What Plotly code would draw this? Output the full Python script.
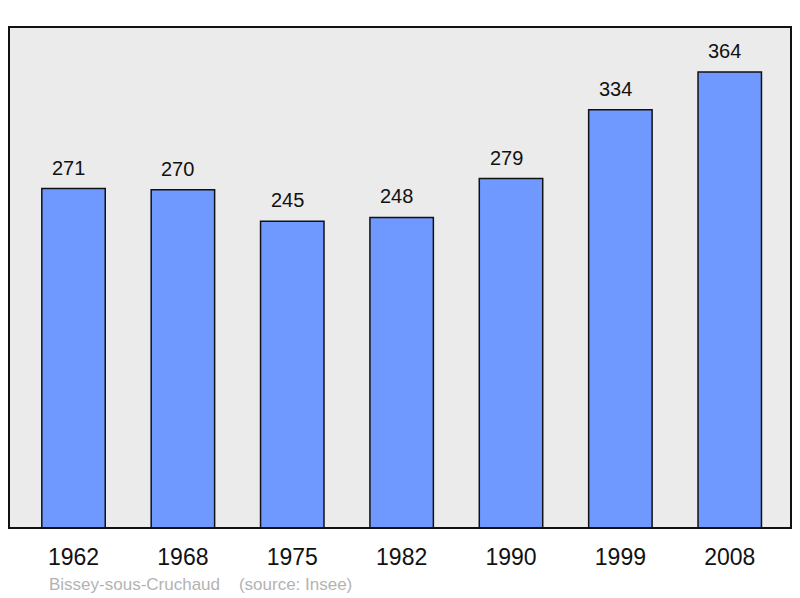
import plotly.graph_objects as go

years = ["1962", "1968", "1975", "1982", "1990", "1999", "2008"]
population = [271, 270, 245, 248, 279, 334, 364]
place = "Bissey-sous-Cruchaud"
source = "(source: Insee)"

fig = go.Figure()
fig.add_bar(
    x=years,
    y=population,
    marker={"color": "#7099ff", "line": {"color": "#111111", "width": 1.5}},
    width=0.58,
    hoverinfo="x+y",
)

# value labels; x given as category index so "1962" is not read as a number
for i, val in enumerate(population):
    fig.add_annotation(
        x=i, y=val, text=str(val), showarrow=False, yshift=21, xshift=-5,
        font={"size": 20, "color": "#111111"},
    )

fig.add_annotation(
    xref="paper", yref="paper", x=0.0485, y=-0.112, xanchor="left", yanchor="middle",
    text=place + "\u00a0" * 4 + source, showarrow=False,
    font={"size": 17, "color": "#b3b3b3"},
)

# frame around plot area
fig.add_shape(
    type="rect", xref="paper", yref="paper", x0=0, x1=1, y0=0, y1=1,
    line={"color": "#111111", "width": 2}, layer="above",
)

fig.update_layout(
    width=800,
    height=598,
    margin={"l": 9, "r": 9, "t": 27, "b": 70},
    paper_bgcolor="white",
    plot_bgcolor="#ebebeb",
    font={"family": "Liberation Sans, Arial, sans-serif", "color": "#111111"},
    showlegend=False,
    xaxis={
        "type": "category",
        "range": [-0.59, 6.56],
        "showgrid": False,
        "zeroline": False,
        "ticks": "outside",
        "ticklen": 8,
        "tickcolor": "rgba(0,0,0,0)",
        "tickfont": {"size": 23, "color": "#111111"},
    },
    yaxis={
        "range": [0, 400],
        "showgrid": False,
        "zeroline": False,
        "showticklabels": False,
    },
)

fig.write_html(
    "out.html",
    config={"displayModeBar": False},
    post_script="document.body.style.margin='0';",
)
